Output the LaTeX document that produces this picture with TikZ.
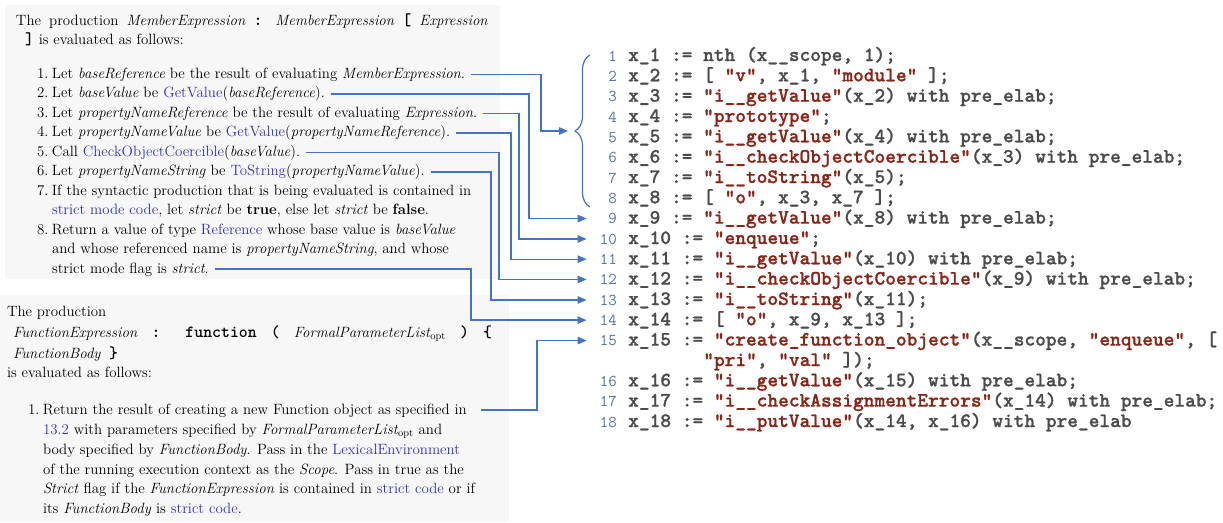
\documentclass[tikz,border=0pt]{standalone}
\usepackage{fontspec}
\newfontfamily\codefont[Extension=.otf,FakeBold=1.0]{lmmonolt10-bold}
\usetikzlibrary{arrows.meta,decorations.pathreplacing}
\definecolor{arrowblue}{RGB}{68,114,196}
\definecolor{linkblue}{RGB}{48,48,200}
\definecolor{codegray}{RGB}{75,75,75}
\definecolor{codered}{RGB}{138,36,22}
\definecolor{numblue}{RGB}{84,112,170}
\definecolor{panelgray}{RGB}{247,247,247}
\newcommand\lk[1]{\textcolor{linkblue}{#1}}
\newcommand\cs[1]{\textcolor{codered}{#1}}
\newcommand\mtt[1]{{\fontsize{17}{19}\selectfont\ttfamily\bfseries #1}}
\newcommand\inum[1]{\makebox[15pt][l]{#1}}
\newcommand\jnum[1]{\makebox[15pt][l]{#1}}
\begin{document}
\begin{tikzpicture}[x=1pt,y=-1pt,
  txt/.style={anchor=base west, inner sep=0pt, outer sep=0pt, font=\fontsize{14.9}{19.4}\selectfont},
  code/.style={anchor=base west, inner sep=0pt, text=codegray, font=\fontsize{20.4}{20.3}\selectfont\codefont},
  lnum/.style={anchor=base east, inner xsep=2pt, inner ysep=0pt, text width=28pt, align=right, text=numblue, font=\fontsize{16.5}{18}\selectfont\ttfamily},
  arr/.style={draw=arrowblue, line width=1.3pt, -{Triangle[length=9pt,width=7.5pt]}},
  brc/.style={draw=arrowblue, line width=1.2pt}]
\useasboundingbox (0,0) rectangle (1223,522);
% panels
\fill[panelgray] (5,5) rectangle (500,279);
\fill[panelgray] (0,295) rectangle (509,522);
% block 1
\node[txt] (h1) at (16,25) {\makebox[472pt][s]{The production \textit{MemberExpression} \mtt{:} \textit{MemberExpression} \mtt{[} \textit{Expression}}};
\node[txt] (h2) at (25,44) {\mtt{]} is evaluated as follows:};
\node[txt] (i1) at (37,78.5) {\strut\inum{1.}Let \textit{baseReference} be the result of evaluating \textit{MemberExpression}.};
\node[txt] (i2) at (37,97.95) {\strut\inum{2.}Let \textit{baseValue} be \lk{GetValue}(\textit{baseReference}).};
\node[txt] (i3) at (37,117.4) {\strut\inum{3.}Let \textit{propertyNameReference} be the result of evaluating \textit{Expression}.};
\node[txt] (i4) at (37,136.85) {\strut\inum{4.}Let \textit{propertyNameValue} be \lk{GetValue}(\textit{propertyNameReference}).};
\node[txt] (i5) at (37,156.3) {\strut\inum{5.}Call \lk{CheckObjectCoercible}(\textit{baseValue}).};
\node[txt] (i6) at (37,175.75) {\strut\inum{6.}Let \textit{propertyNameString} be \lk{ToString}(\textit{propertyNameValue}).};
\node[txt] (i7a) at (37,195.2) {\strut\inum{7.}If the syntactic production that is being evaluated is contained in};
\node[txt] (i7b) at (52,214.65) {\strut\lk{strict mode code}, let \textit{strict} be \textbf{true}, else let \textit{strict} be \textbf{false}.};
\node[txt] (i8a) at (37,234.1) {\strut\inum{8.}Return a value of type \lk{Reference} whose base value is \textit{baseValue}};
\node[txt] (i8b) at (52,253.55) {\strut and whose referenced name is \textit{propertyNameString}, and whose};
\node[txt] (i8c) at (52,273) {\strut strict mode flag is \textit{strict}.};
% block 2
\node[txt] (g1) at (7,316) {The production};
\node[txt] (g2) at (13,337) {\makebox[479pt][s]{\textit{FunctionExpression} \mtt{:} \mtt{function} \mtt{(} \textit{FormalParameterList}\textsubscript{opt} \mtt{)} \mtt{\{}}};
\node[txt] (g3) at (13,358) {\makebox[105pt][s]{\textit{FunctionBody} \mtt{\}}}};
\node[txt] (g4) at (7,377) {is evaluated as follows:};
\node[txt] (f1) at (28,414) {\strut\jnum{1.}Return the result of creating a new Function object as specified in};
\node[txt] (f2) at (43,434) {\strut\lk{13.2} with parameters specified by \textit{FormalParameterList}\textsubscript{opt} and};
\node[txt] (f3) at (43,454) {\strut body specified by \textit{FunctionBody}. Pass in the \lk{LexicalEnvironment}};
\node[txt] (f4) at (43,474) {\strut of the running execution context as the \textit{Scope}. Pass in true as the};
\node[txt] (f5) at (43,493) {\strut\textit{Strict} flag if the \textit{FunctionExpression} is contained in \lk{strict code} or if};
\node[txt] (f6) at (43,513) {\strut its \textit{FunctionBody} is \lk{strict code}.};
% code listing
\node[lnum] (n1) at (619,61) {1};
\node[lnum] (n2) at (619,81.3) {2};
\node[lnum] (n3) at (619,101.7) {3};
\node[lnum] (n4) at (619,122) {4};
\node[lnum] (n5) at (619,142.3) {5};
\node[lnum] (n6) at (619,162.7) {6};
\node[lnum] (n7) at (619,183) {7};
\node[lnum] (n8) at (619,203.3) {8};
\node[lnum] (n9) at (619,223.6) {9};
\node[lnum] (n10) at (619,244) {10};
\node[lnum] (n11) at (619,264.3) {11};
\node[lnum] (n12) at (619,284.6) {12};
\node[lnum] (n13) at (619,305) {13};
\node[lnum] (n14) at (619,325.3) {14};
\node[lnum] (n15) at (619,345.6) {15};
\node[lnum] (n16) at (619,386.3) {16};
\node[lnum] (n17) at (619,406.6) {17};
\node[lnum] (n18) at (619,427) {18};
\node[code] (c1) at (628,61) {x\_1 := nth (x\_\_scope, 1);};
\node[code] (c2) at (628,81.3) {x\_2 := [ \cs{"v"}, x\_1, \cs{"module"} ];};
\node[code] (c3) at (628,101.7) {x\_3 := \cs{"i\_\_getValue"}(x\_2) with pre\_elab;};
\node[code] (c4) at (628,122) {x\_4 := \cs{"prototype"};};
\node[code] (c5) at (628,142.3) {x\_5 := \cs{"i\_\_getValue"}(x\_4) with pre\_elab;};
\node[code] (c6) at (628,162.7) {x\_6 := \cs{"i\_\_checkObjectCoercible"}(x\_3) with pre\_elab;};
\node[code] (c7) at (628,183) {x\_7 := \cs{"i\_\_toString"}(x\_5);};
\node[code] (c8) at (628,203.3) {x\_8 := [ \cs{"o"}, x\_3, x\_7 ];};
\node[code] (c9) at (628,223.6) {x\_9 := \cs{"i\_\_getValue"}(x\_8) with pre\_elab;};
\node[code] (c10) at (628,244) {x\_10 := \cs{"enqueue"};};
\node[code] (c11) at (628,264.3) {x\_11 := \cs{"i\_\_getValue"}(x\_10) with pre\_elab;};
\node[code] (c12) at (628,284.6) {x\_12 := \cs{"i\_\_checkObjectCoercible"}(x\_9) with pre\_elab;};
\node[code] (c13) at (628,305) {x\_13 := \cs{"i\_\_toString"}(x\_11);};
\node[code] (c14) at (628,325.3) {x\_14 := [ \cs{"o"}, x\_9, x\_13 ];};
\node[code] (c15) at (628,345.6) {x\_15 := \cs{"create\_function\_object"}(x\_\_scope, \cs{"enqueue"}, [};
\node[code] (c15b) at (703.1,366) {\cs{"pri"}, \cs{"val"} ]);};
\node[code] (c16) at (628,386.3) {x\_16 := \cs{"i\_\_getValue"}(x\_15) with pre\_elab;};
\node[code] (c17) at (628,406.6) {x\_17 := \cs{"i\_\_checkAssignmentErrors"}(x\_14) with pre\_elab;};
\node[code] (c18) at (628,427) {x\_18 := \cs{"i\_\_putValue"}(x\_14, x\_16) with pre\_elab};
% brace over lines 1-8
\draw[brc, decorate, decoration={brace, amplitude=15pt}] (590,207) -- (590,55);
\coordinate (bt) at (568,131);
% connector columns
\coordinate (x1) at (541,0);
\coordinate (x2) at (529,0);
\coordinate (x3) at (519,0);
\coordinate (x4) at (511,0);
\coordinate (x5) at (499,0);
\coordinate (x6) at (491,0);
\coordinate (x7) at (471,0);
\coordinate (x8) at (537,0);
% connectors
\draw[arr] ([xshift=6pt]i1.east) -| (x1 |- bt) -- (bt);
\draw[arr] ([xshift=6pt]i2.east) -| (x2 |- n9.west) -- (n9.west);
\draw[arr] ([xshift=6pt]i3.east) -| (x3 |- n10.west) -- (n10.west);
\draw[arr] ([xshift=6pt]i4.east) -| (x4 |- n11.west) -- (n11.west);
\draw[arr] ([xshift=6pt]i5.east) -| (x5 |- n12.west) -- (n12.west);
\draw[arr] ([xshift=6pt]i6.east) -| (x6 |- n13.west) -- (n13.west);
\draw[arr] ([xshift=6pt]i8c.east) -| (x7 |- n14.west) -- (n14.west);
\draw[arr] ([xshift=14pt]f1.east) -| (x8 |- n15.west) -- (n15.west);
\end{tikzpicture}
\end{document}
